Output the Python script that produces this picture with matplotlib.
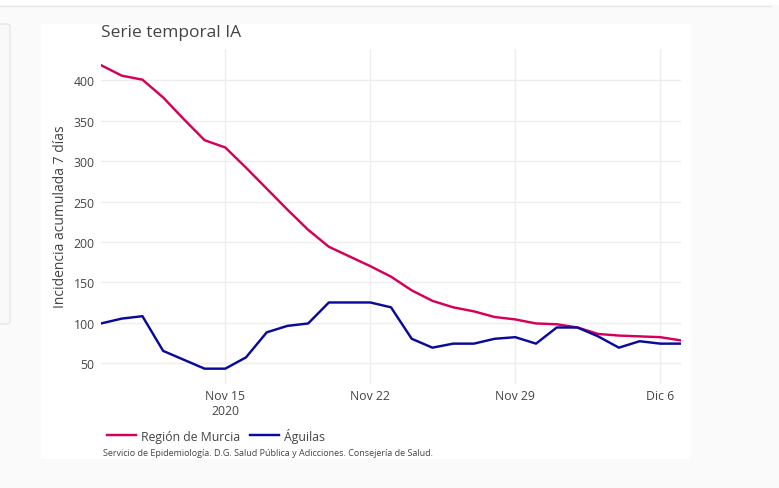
import matplotlib
matplotlib.use("Agg")
import matplotlib.pyplot as plt
import matplotlib.dates as mdates
from matplotlib.patches import Rectangle, FancyBboxPatch
from matplotlib.lines import Line2D
import numpy as np
import datetime as dt

plt.rcParams['font.family'] = ['Open Sans', 'DejaVu Sans']

start_date = dt.date(2020, 11, 9)
n_days = 29
dates = [start_date + dt.timedelta(days=i) for i in range(n_days)]

murcia = [419, 406, 401, 379, 352, 326, 317, 292, 266, 240, 215, 194, 182, 170,
          157, 140, 127, 119, 114, 107, 104, 99, 98, 94, 86, 84, 83, 82, 78]
aguilas = [99, 105, 108, 65, 54, 43, 43, 57, 88, 96, 99, 125, 125, 125,
           119, 80, 69, 74, 74, 80, 82, 74, 94, 94, 83, 69, 77, 74, 74]

series_names = ["Región de Murcia", "Águilas"]
series_colors = ["#d6005a", "#0a0a9a"]

tick_dates = [dt.date(2020, 11, 15), dt.date(2020, 11, 22), dt.date(2020, 11, 29), dt.date(2020, 12, 6)]
tick_labels = ["Nov 15\n2020", "Nov 22", "Nov 29", "Dic 6"]
yticks = [50, 100, 150, 200, 250, 300, 350, 400]

W, H = 779, 489
fig = plt.figure(figsize=(W / 100, H / 100), dpi=100)
fig.patch.set_facecolor("#fafafa")

def fx(x):
    return x / W

def fy(y):
    return 1 - y / H

# page decorations
fig.add_artist(Rectangle((0, fy(6)), 1, 6 / H, transform=fig.transFigure, facecolor="white", edgecolor="none", zorder=0))
fig.add_artist(Line2D([0, fx(771)], [fy(6.5), fy(6.5)], transform=fig.transFigure, color="#e6e6e6", lw=1, zorder=1))
fig.add_artist(FancyBboxPatch((fx(-10), fy(325)), 20 / W, 300 / H, boxstyle="round,pad=0,rounding_size=0.005",
                              transform=fig.transFigure, facecolor="#f9f9f9", edgecolor="#e3e3e3", lw=0.8, zorder=0))
fig.add_artist(Rectangle((fx(41), fy(460)), 650 / W, 435 / H, transform=fig.transFigure,
                         facecolor="white", edgecolor="none", zorder=0))

ax = fig.add_axes([fx(101), fy(385), (681 - 101) / W, (385 - 50) / H])
ax.set_facecolor("white")
ax.set_zorder(2)

dnum = mdates.date2num(dates)
for vals, name, col in zip([murcia, aguilas], series_names, series_colors):
    ax.plot(dnum, vals, color=col, lw=1.75, label=name, solid_joinstyle="round", zorder=3)

ax.set_xlim(dnum[0], dnum[-1])
ax.set_ylim(24, 439)
ax.set_xticks(mdates.date2num(tick_dates))
ax.set_xticklabels(tick_labels)
ax.set_yticks(yticks)
ax.set_yticklabels([str(v) for v in yticks])
ax.grid(True, color="#eeeeee", lw=1)
ax.set_axisbelow(True)
for s in ax.spines.values():
    s.set_visible(False)
ax.tick_params(axis="both", length=0, labelsize=8.8, labelcolor="#444444")
ax.tick_params(axis="y", pad=4.5)
ax.tick_params(axis="x", pad=3.5)

fig.text(fx(101), fy(33), "Serie temporal IA", fontsize=12.5, color="#444444", va="center", ha="left")
fig.text(fx(60), fy(217), "Incidencia acumulada 7 días", fontsize=10, color="#444444",
         rotation=90, va="center", ha="center")

leg = fig.legend(loc="center left", bbox_to_anchor=(fx(96), fy(436)), ncol=2, frameon=False,
                 fontsize=8.8, handlelength=2.4, handletextpad=0.4, columnspacing=0.75,
                 labelcolor="#444444")
fig.text(fx(103), fy(454), "Servicio de Epidemiología. D.G. Salud Pública y Adicciones. Consejería de Salud.",
         fontsize=6.45, color="#444444", va="center", ha="left")

fig.savefig("out.png", dpi=100, facecolor=fig.get_facecolor())
